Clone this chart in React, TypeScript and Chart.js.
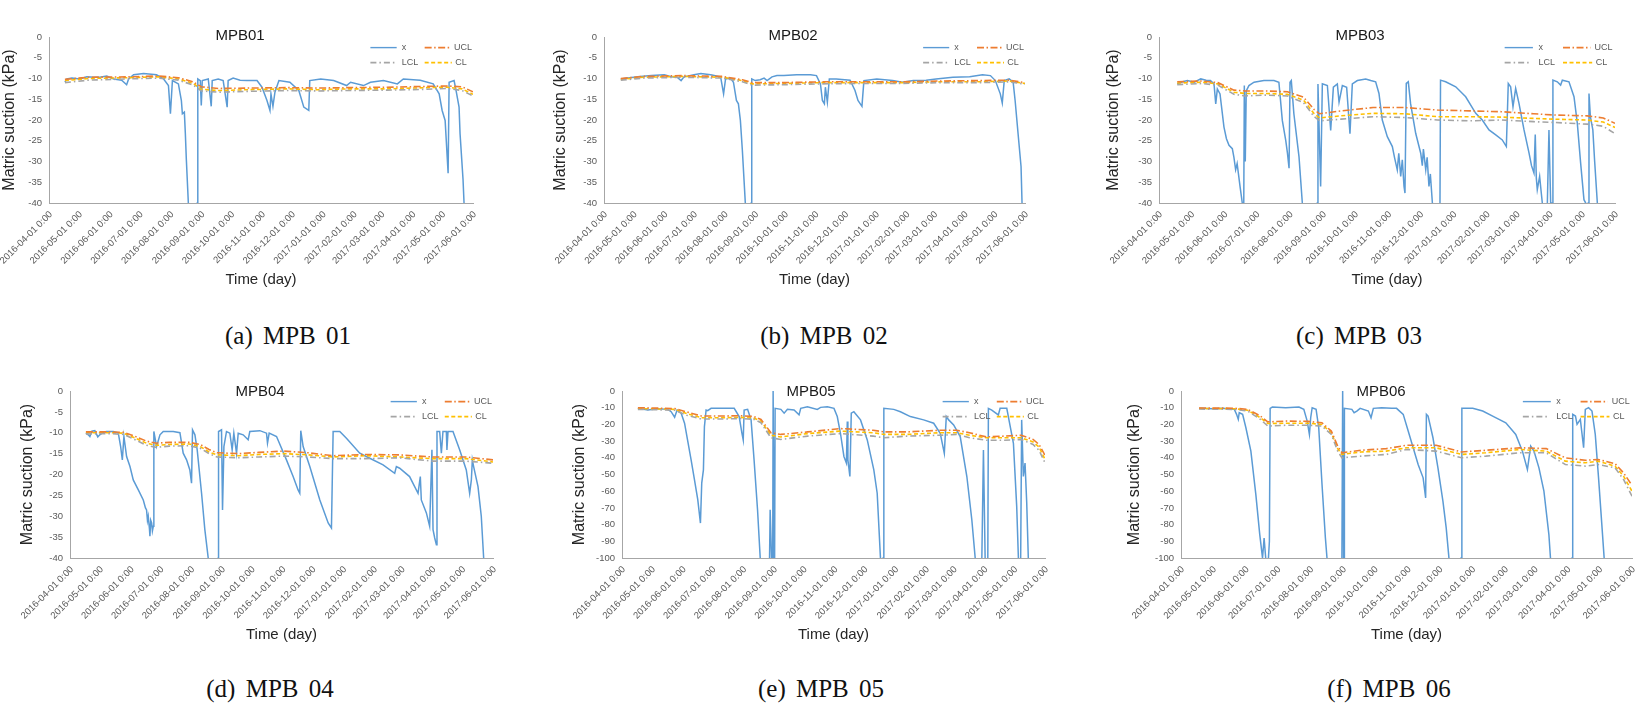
import React, { useEffect, useRef } from 'react';
import { Chart, registerables } from 'chart.js';

Chart.register(...registerables);

type Pt = [number, number];

// Day offsets from 2016-04-01 for monthly ticks, and their labels
const MONTH_DAYS = [0, 30, 61, 91, 122, 153, 183, 214, 244, 275, 306, 334, 365, 395, 426];
const MONTH_LABELS = [
  '2016-04-01 0:00', '2016-05-01 0:00', '2016-06-01 0:00', '2016-07-01 0:00', '2016-08-01 0:00',
  '2016-09-01 0:00', '2016-10-01 0:00', '2016-11-01 0:00', '2016-12-01 0:00', '2017-01-01 0:00',
  '2017-02-01 0:00', '2017-03-01 0:00', '2017-04-01 0:00', '2017-05-01 0:00', '2017-06-01 0:00',
];

// ---------- MPB01 ----------
const MPB01_X: Pt[] = [[16,-10.9],[18,-10.1],[23,-9.9],[31,-10.1],[38,-9.6],[45,-9.7],[51,-9.7],[58,-9.4],[65,-10.1],[73,-10.4],[78,-11.5],[80,-10.1],[85,-9.1],[95,-8.8],[108,-9.1],[115,-10.1],[120,-11.7],[122,-18.5],[124,-10.5],[130,-11.3],[133,-15.3],[134,-18.5],[136,-18.1],[137,-23.3],[138,-29.6],[140,-40],[141,-50],[148,-50],[149,-40],[149.5,-10.1],[152,-10.5],[153,-16.5],[154,-10.5],[160,-10.1],[163,-16.7],[164,-10.5],[170,-10.1],[175,-10.5],[179,-16.9],[180,-10.5],[185,-9.9],[192,-10.4],[199,-10.5],[209,-10.5],[214,-12.1],[219,-15.3],[222,-17.7],[223,-13.7],[225,-16.7],[227,-13.3],[231,-10.5],[242,-10.9],[251,-12.9],[256,-16.9],[261,-17.7],[262,-10.5],[273,-10.1],[286,-10.5],[299,-11.7],[303,-10.9],[316,-11.7],[323,-10.9],[336,-10.5],[350,-11.3],[356,-10.1],[373,-10.4],[386,-11.3],[392,-13.7],[395,-17.7],[398,-20.1],[401,-32.8],[402,-10.9],[407,-10.5],[409,-12.9],[412,-16.9],[413,-23.3],[416,-34.4],[417,-40],[418,-50]];
const MPB01_UCL: Pt[] = [[16,-10.2],[40,-9.7],[80,-9.6],[110,-9.4],[130,-9.8],[145,-10.8],[153,-12.0],[170,-12.4],[200,-12.3],[240,-12.2],[270,-12.3],[300,-12.2],[340,-12.1],[380,-11.9],[400,-11.8],[415,-12.0],[426,-13.2]];
const MPB01_CL: Pt[] = [[16,-10.5],[40,-10.0],[80,-9.8],[110,-9.6],[130,-10.1],[145,-11.2],[153,-12.6],[170,-12.9],[200,-12.7],[240,-12.5],[270,-12.7],[300,-12.5],[340,-12.5],[380,-12.2],[400,-12.1],[415,-12.5],[426,-13.8]];
const MPB01_LCL: Pt[] = [[16,-11.0],[40,-10.4],[80,-10.1],[110,-9.9],[130,-10.4],[145,-11.6],[153,-13.0],[170,-13.3],[200,-13.1],[240,-12.9],[270,-13.0],[300,-12.9],[340,-12.8],[380,-12.6],[400,-12.4],[415,-12.9],[426,-14.2]];

// ---------- MPB02 ----------
const MPB02_X: Pt[] = [[17,-10.1],[24,-9.9],[34,-9.6],[48,-9.3],[61,-9.1],[68,-9.6],[74,-9.7],[78,-10.5],[81,-9.6],[91,-9.1],[98,-8.8],[108,-9.1],[118,-9.6],[121,-13.7],[123,-10.1],[128,-9.9],[131,-10.9],[134,-15.3],[136,-16.1],[138,-20.1],[140,-27.3],[143,-40],[144,-50],[148,-50],[149,-40],[149.5,-10.1],[153,-10.5],[158,-10.3],[162,-9.9],[165,-10.5],[170,-9.6],[175,-9.3],[182,-9.3],[195,-9.1],[209,-9.1],[215,-9.3],[219,-11.3],[221,-15.3],[223,-16.1],[224,-12.1],[226,-15.7],[228,-10.1],[235,-10.1],[249,-10.4],[254,-12.9],[257,-15.3],[261,-16.7],[263,-10.5],[276,-10.1],[292,-10.5],[302,-10.9],[313,-10.5],[326,-10.4],[336,-10.1],[353,-9.7],[370,-9.6],[383,-9.1],[391,-9.3],[396,-10.5],[401,-13.7],[403,-15.9],[405,-10.5],[410,-10.1],[414,-10.9],[416,-15.3],[419,-23.3],[422,-31.2],[423,-40],[424,-50]];
const MPB02_UCL: Pt[] = [[17,-10.0],[40,-9.5],[80,-9.3],[120,-9.5],[140,-10.3],[150,-11.0],[180,-11.0],[220,-10.8],[260,-10.8],[300,-10.8],[340,-10.6],[380,-10.5],[410,-10.4],[426,-11.0]];
const MPB02_CL: Pt[] = [[17,-10.2],[40,-9.7],[80,-9.5],[120,-9.7],[140,-10.5],[150,-11.3],[180,-11.2],[220,-11.0],[260,-11.0],[300,-11.0],[340,-10.8],[380,-10.8],[410,-10.6],[426,-11.2]];
const MPB02_LCL: Pt[] = [[17,-10.4],[40,-9.9],[80,-9.7],[120,-9.9],[140,-10.8],[150,-11.6],[180,-11.5],[220,-11.3],[260,-11.2],[300,-11.2],[340,-11.0],[380,-11.0],[410,-10.8],[426,-11.4]];

// ---------- MPB03 ----------
const MPB03_X: Pt[] = [[17,-11.3],[22,-10.8],[26.5,-10.5],[33,-10.9],[39,-10.1],[44,-10.4],[48,-10.5],[51.4,-11.3],[53,-16.1],[54.5,-12.5],[57,-13.7],[60.7,-21.7],[63,-24.5],[65.4,-26.1],[68.5,-26.9],[70,-29],[71.6,-32],[73,-30.5],[75.7,-36],[77.8,-40],[78.5,-50],[79,-50],[79.4,-40],[79.7,-11.7],[80.6,-30],[81.5,-13],[84,-11.7],[88.8,-10.9],[98,-10.5],[107.4,-10.5],[112,-10.9],[115.2,-20.1],[118.4,-24.9],[120,-28],[121.5,-31.6],[122.4,-10.9],[123.6,-10.5],[126,-18.5],[130.8,-28.9],[133.9,-40],[135,-50],[147,-50],[147.9,-40],[148.5,-11.3],[151,-36],[152.6,-11.3],[157.3,-11.7],[160.4,-22.5],[162.9,-12.1],[166.6,-11.3],[168.2,-15.7],[171.3,-11.7],[175.3,-12.1],[178.4,-23.3],[180.6,-11.3],[185.3,-10.5],[193.1,-10.1],[197.8,-10.5],[202.4,-10.8],[205.5,-13.6],[208.6,-20],[213.3,-24],[218,-26.4],[220,-29],[222.6,-32],[224,-28],[225.8,-33.6],[227.3,-29.6],[228.9,-36],[229.8,-37.6],[231,-11.2],[232.9,-10.8],[235,-16],[239.8,-23.2],[244.5,-28],[246,-31],[247,-27],[249.2,-32],[250.5,-29],[252.2,-36],[253.5,-33],[255.4,-40],[256.5,-50],[261,-50],[262.5,-40],[263,-10.4],[267.8,-10.8],[277.2,-12],[286.5,-14.4],[295.9,-18.4],[302,-20],[308.3,-22.4],[314.6,-23.6],[320.7,-24.8],[324.5,-26.4],[326.3,-11.2],[328.5,-12],[330.7,-16.8],[333.2,-12.4],[336.3,-16],[341,-22.4],[345.7,-28],[348,-31],[350.3,-32.8],[351.5,-23.5],[352.5,-34],[353.4,-36.8],[355.6,-33.6],[357.3,-38],[358.1,-40],[359,-50],[362,-50],[362.8,-40],[364.3,-22.4],[365.9,-40],[366.5,-50],[367.2,-40],[368,-10.4],[372.1,-10.8],[375.2,-11.6],[376.8,-10.4],[383,-10.8],[387.7,-14.4],[390.8,-20.8],[393.9,-30.4],[397,-39.2],[398.6,-40],[399.5,-50],[400.5,-50],[401,-40],[401.7,-13.6],[403,-19.2],[405.3,-22.4],[407,-30],[409.5,-40],[410,-50]];
const MPB03_UCL: Pt[] = [[17,-10.8],[40,-10.6],[55,-11.0],[70,-12.8],[80,-13.0],[100,-13.0],[120,-13.2],[135,-14.5],[145,-17.5],[150,-18.5],[170,-17.8],[200,-17.0],[230,-17.0],[260,-17.6],[290,-17.8],[320,-18.0],[350,-18.5],[370,-18.8],[400,-19.0],[415,-19.5],[426,-20.8]];
const MPB03_CL: Pt[] = [[17,-11.1],[40,-10.9],[55,-11.3],[70,-13.3],[80,-13.6],[100,-13.6],[120,-13.8],[135,-15.2],[145,-18.5],[150,-19.5],[170,-19.0],[200,-18.4],[230,-18.5],[260,-19.2],[290,-19.2],[320,-19.3],[350,-19.6],[370,-19.8],[400,-20.0],[415,-20.5],[426,-21.8]];
const MPB03_LCL: Pt[] = [[17,-11.5],[40,-11.2],[55,-11.6],[70,-13.8],[80,-14.2],[100,-14.0],[120,-14.2],[135,-15.8],[145,-19.2],[150,-20.2],[170,-19.8],[200,-19.2],[230,-19.4],[260,-20.0],[290,-20.2],[320,-20.0],[350,-20.4],[370,-20.6],[400,-21.0],[415,-21.5],[426,-23.3]];

// ---------- MPB04 ----------
const MPB04_X: Pt[] = [[16,-10.1],[18.4,-10.5],[20,-10.9],[22,-9.6],[25,-9.5],[28,-11],[30,-10.5],[34,-9.8],[37,-9.7],[43.6,-9.7],[48.6,-10],[51,-13.3],[52.7,-16.5],[54.3,-10.9],[57,-15.7],[60.4,-18.1],[63.7,-21.3],[68.8,-23.7],[73.8,-26.1],[76,-28],[77.1,-28.5],[78,-31],[78.8,-30],[80,-33],[80.5,-34.8],[81.3,-31],[82.2,-31.6],[83,-33.5],[83.9,-32.4],[84.4,-28.5],[84.5,-9.7],[87.2,-13.3],[90.6,-10.5],[93.9,-9.7],[104,-9.7],[110.7,-10],[114,-14.9],[117.4,-16.5],[120.7,-18.9],[122.4,-22.1],[123.4,-9.3],[125.8,-10.5],[128.1,-14.1],[132.5,-24.5],[135.8,-33.2],[139.2,-40],[140,-50],[148.5,-50],[149.3,-40],[149.6,-9.7],[152.6,-9.3],[153.6,-28.5],[155,-13.3],[157.6,-9.7],[161,-10.1],[163.3,-14.1],[165,-10.1],[167.7,-14.9],[169.4,-10.1],[174.4,-10.5],[179.4,-11.7],[181.1,-9.7],[191.2,-9.5],[197.9,-10.1],[198.9,-12.5],[200.6,-10.1],[208,-10.9],[218,-16.5],[224.7,-20.5],[229.7,-23.7],[231.4,-24.5],[232.4,-9.5],[234.8,-13.3],[241.5,-18.1],[251.6,-26.1],[260,-31.6],[263.3,-32.8],[265,-9.7],[271.7,-9.7],[278.4,-11.3],[291.8,-14.9],[301.9,-16.1],[315.3,-17.7],[327,-19.7],[328.7,-18.1],[332,-18.5],[342,-20.5],[350.5,-24.5],[352.8,-20.5],[353.8,-26.1],[358.9,-29.2],[362.2,-32.4],[364.5,-14.1],[365.6,-33.2],[367.3,-35.2],[369,-36.8],[369.6,-9.7],[372.3,-9.7],[374,-14.9],[375.6,-9.7],[379,-9.7],[379.6,-14.1],[380.7,-9.7],[385.7,-9.7],[392.4,-14.1],[399.1,-18.9],[402.5,-24.5],[404.2,-21.3],[405.2,-16.5],[406.5,-18.1],[410.9,-22.9],[414.2,-30],[416.6,-40],[417,-50]];
const MPB04_UCL: Pt[] = [[16,-9.8],[40,-9.8],[54,-9.9],[65,-10.8],[77,-12.0],[87,-12.5],[100,-12.3],[120,-12.3],[131,-12.8],[140,-14.0],[148,-14.8],[170,-15.0],[190,-14.7],[215,-14.4],[240,-14.8],[265,-15.5],[298,-15.2],[332,-15.3],[365,-15.8],[399,-15.8],[426,-16.5]];
const MPB04_CL: Pt[] = [[16,-10.0],[40,-10.0],[54,-10.1],[65,-11.2],[77,-12.5],[87,-13.0],[100,-12.8],[120,-12.7],[131,-13.3],[140,-14.6],[148,-15.3],[170,-15.5],[190,-15.2],[215,-15.0],[240,-15.3],[265,-15.8],[298,-15.5],[332,-15.8],[365,-16.2],[399,-16.2],[426,-17.0]];
const MPB04_LCL: Pt[] = [[16,-10.3],[40,-10.2],[54,-10.4],[65,-11.6],[77,-13.0],[87,-13.5],[100,-13.2],[120,-13.1],[131,-13.7],[140,-15.0],[148,-15.8],[170,-16.0],[190,-15.8],[215,-15.6],[240,-15.8],[265,-16.2],[298,-16.2],[332,-16.0],[365,-16.8],[399,-16.8],[426,-17.3]];

// ---------- MPB05 ----------
const MPB05_X: Pt[] = [[16,-10.4],[26,-11.4],[36,-10.6],[46,-11],[49.5,-12.4],[53,-15.7],[55.5,-11.4],[59.6,-13.3],[63,-19.3],[66,-29.3],[69.6,-41.2],[73,-53.2],[76.3,-65.1],[79,-79.1],[80.3,-55.2],[82,-47.2],[83,-21.3],[84.7,-11.4],[86.3,-11.8],[89.7,-10.4],[99.7,-10.4],[113,-10.4],[118,-15.3],[120.8,-25.3],[122.1,-29.3],[123,-11.4],[126.5,-11],[130,-17.3],[133,-41.2],[136.5,-71.1],[139.2,-100],[140,-110],[148,-110],[148.6,-100],[149.2,-71.1],[150.6,-100],[151.5,-110],[151.8,-100],[152.2,0],[153.2,-100],[153.5,-110],[153.9,-100],[154.2,-10.4],[160,-11],[163.3,-13.3],[166.6,-11],[173.3,-11.4],[178.3,-14.3],[180,-10.4],[186.7,-9.4],[196.7,-11],[200,-9.8],[206.8,-9.4],[213.5,-10.4],[216.8,-15.3],[220,-25.3],[223.5,-39.2],[226,-43.2],[226.9,-18.3],[227.5,-41.2],[229.5,-51.2],[230.9,-13.3],[233.5,-12.4],[240.2,-17.3],[247,-29.3],[253.6,-47.2],[257,-61.2],[260.3,-100],[261,-110],[262.5,-110],[263,-100],[263.7,-10.4],[273.7,-11],[280.4,-12.4],[290.4,-15.3],[303.8,-17.3],[313.9,-19.3],[320.5,-25.3],[324.6,-37.3],[326.6,-15.3],[329,-17.3],[334,-20.3],[340.6,-27.3],[347.3,-51.2],[352.3,-77.1],[355.7,-100],[356.5,-110],[361.5,-110],[362.4,-100],[364,-35.3],[365.7,-100],[366.5,-110],[367.5,-110],[368.4,-100],[369,-10.4],[372.4,-11.4],[379,-14.3],[380.8,-10.4],[387.5,-10.4],[394.2,-31.3],[397.5,-69.1],[399.2,-100],[400,-110],[401,-110],[401.5,-100],[402.5,-17.3],[404.2,-51.2],[405.9,-43.2],[407.6,-67.1],[409.2,-100],[410,-110]];
const MPB05_UCL: Pt[] = [[16,-10.0],[53,-10.5],[65,-12.5],[80,-15.0],[100,-15.0],[120,-14.8],[133,-15.3],[140,-17],[150,-25.0],[160,-26.0],[187,-24.5],[220,-22.5],[253,-23.5],[264,-24.5],[287,-24.5],[320,-23.5],[337,-23.5],[350,-25],[367,-27.5],[385,-27],[402,-26.5],[414,-29],[420,-32],[426,-38.5]];
const MPB05_CL: Pt[] = [[16,-10.5],[53,-11.0],[65,-13.5],[80,-16.0],[100,-16.0],[120,-15.8],[133,-16.3],[140,-18],[150,-26.5],[160,-27.5],[187,-25.5],[220,-24.0],[253,-25.0],[264,-26.0],[287,-26.0],[320,-25.0],[337,-25.0],[350,-26.5],[367,-28.0],[385,-28.0],[402,-28.0],[414,-30.5],[420,-33.5],[426,-41.0]];
const MPB05_LCL: Pt[] = [[16,-11.0],[53,-11.5],[65,-14.5],[80,-16.8],[100,-16.8],[120,-16.5],[133,-17],[140,-19],[150,-28.0],[160,-29.0],[187,-27.0],[220,-25.5],[253,-27.0],[264,-28.0],[287,-27.0],[320,-26.5],[337,-26.0],[350,-28],[367,-29.5],[385,-29.5],[402,-29.0],[414,-32],[420,-35.5],[426,-43.0]];

// ---------- MPB06 ----------
const MPB06_X: Pt[] = [[17.5,-10.4],[30,-10.6],[39.4,-10.4],[50.4,-11],[52.5,-14],[54.1,-17],[55,-13],[58.2,-14],[61.3,-22],[66,-36],[70.7,-62],[74.4,-86],[77,-100],[78.5,-88],[80,-100],[80.5,-110],[82,-110],[82.6,-100],[83.5,-90],[84.2,-10.4],[86.3,-9.6],[98.8,-10],[111.4,-9.6],[116,-11],[119.2,-18],[121.3,-26],[122.5,-16],[123.9,-10],[127.6,-11],[130.1,-22],[133.2,-56],[136.4,-88],[137.9,-100],[138.5,-110],[151.5,-110],[152,-100],[152.7,0],[153.6,-100],[154,-110],[154.2,-100],[154.5,-10.4],[161.4,-11],[163.5,-13],[166.1,-12],[169.2,-10.4],[177,-12],[179.5,-16],[181.7,-10.4],[189.5,-10],[198.9,-10.4],[203.6,-10.4],[209.9,-14],[214.6,-24],[219.3,-34],[224,-44],[228.7,-52],[231.1,-64],[231.8,-14],[233.4,-15],[238,-28],[242.7,-46],[247.4,-66],[250.5,-82],[253.1,-100],[253.6,-110],[264,-110],[264.6,-100],[265.3,-10.4],[275.6,-10.4],[285,-12],[294.4,-15],[306.8,-19],[316.2,-26],[322.5,-36],[327.2,-47],[330.3,-33],[333.4,-36],[338.1,-46],[342.8,-60],[347.5,-86],[349,-100],[349.5,-110],[369,-110],[369.4,-100],[370,-14],[372.6,-15],[374.1,-20],[377.2,-17],[380.3,-34],[381.9,-11],[385,-10],[388.2,-12],[391.3,-26],[394.4,-52],[397.5,-80],[399.7,-100],[400.2,-110]];
const MPB06_UCL: Pt[] = [[17,-10.2],[50,-10.3],[63,-11.0],[75,-15],[82,-18.5],[100,-18.0],[120,-18.2],[133,-19.0],[142,-24],[148,-33],[152,-37],[170,-35.5],[194,-34.5],[213,-32.5],[241,-32.5],[265,-36.5],[288,-35.5],[320,-34.0],[345,-34.5],[363,-40.0],[382,-41.5],[394,-41.0],[410,-43.5],[418,-49],[426,-56.5]];
const MPB06_CL: Pt[] = [[17,-10.5],[50,-10.6],[63,-11.5],[75,-16],[82,-19.5],[100,-19.3],[120,-19.3],[133,-20.0],[142,-25],[148,-34.5],[152,-38.0],[170,-36.5],[194,-36.0],[213,-34.0],[241,-34.0],[265,-38.0],[288,-37.0],[320,-35.0],[345,-36.0],[363,-42.0],[382,-43.0],[394,-42.0],[410,-45.0],[418,-51],[426,-60.0]];
const MPB06_LCL: Pt[] = [[17,-10.8],[50,-11.0],[63,-12.0],[75,-17],[82,-21.0],[100,-20.5],[120,-20.5],[133,-21.0],[142,-26],[148,-36],[152,-40.0],[170,-39.0],[194,-38.0],[213,-35.0],[241,-36.0],[265,-40.0],[288,-39.0],[320,-37.0],[345,-37.0],[363,-44.0],[382,-45.0],[394,-44.0],[410,-46.0],[418,-53],[426,-63.0]];

const SANS = '"Liberation Sans", Arial, sans-serif';
const C_X = '#5B9BD5';
const C_UCL = '#ED7D31';
const C_LCL = '#A5A5A5';
const C_CL = '#FFC000';
const DASH_UCL = [7, 2.5, 1.5, 2.5];
const DASH_LCL = [6, 3, 1.5, 3];
const DASH_CL = [4, 2.5];
const Y_TITLE_SIZE = 16;
const X_TITLE_SIZE = 15;

interface PanelDef {
  title: string; caption: string;
  x: Pt[]; ucl: Pt[]; lcl: Pt[]; cl: Pt[];
  yMin: number; yStep: number;
  L: number; R: number; T: number; B: number;
  yTitleX: number; titleX: number; titleY: number; xTitleY: number;
  capX: number; capY: number;
}

const PANELS: PanelDef[] = [
  { title: 'MPB01', caption: '(a) MPB 01', x: MPB01_X, ucl: MPB01_UCL, lcl: MPB01_LCL, cl: MPB01_CL, yMin: -40, yStep: 5,
    L: 49, R: 473, T: 37, B: 203, yTitleX: 9, titleX: 240, titleY: 36, xTitleY: 280, capX: 288, capY: 336 },
  { title: 'MPB02', caption: '(b) MPB 02', x: MPB02_X, ucl: MPB02_UCL, lcl: MPB02_LCL, cl: MPB02_CL, yMin: -40, yStep: 5,
    L: 604, R: 1025, T: 37, B: 203, yTitleX: 561, titleX: 793, titleY: 36, xTitleY: 280, capX: 824, capY: 336 },
  { title: 'MPB03', caption: '(c) MPB 03', x: MPB03_X, ucl: MPB03_UCL, lcl: MPB03_LCL, cl: MPB03_CL, yMin: -40, yStep: 5,
    L: 1159, R: 1615, T: 37, B: 203, yTitleX: 1114, titleX: 1360, titleY: 36, xTitleY: 280, capX: 1359, capY: 336 },
  { title: 'MPB04', caption: '(d) MPB 04', x: MPB04_X, ucl: MPB04_UCL, lcl: MPB04_LCL, cl: MPB04_CL, yMin: -40, yStep: 5,
    L: 70, R: 493, T: 391, B: 558, yTitleX: 28, titleX: 260, titleY: 392, xTitleY: 635, capX: 270, capY: 689 },
  { title: 'MPB05', caption: '(e) MPB 05', x: MPB05_X, ucl: MPB05_UCL, lcl: MPB05_LCL, cl: MPB05_CL, yMin: -100, yStep: 10,
    L: 622, R: 1045, T: 391, B: 558, yTitleX: 580, titleX: 811, titleY: 392, xTitleY: 635, capX: 821, capY: 689 },
  { title: 'MPB06', caption: '(f) MPB 06', x: MPB06_X, ucl: MPB06_UCL, lcl: MPB06_LCL, cl: MPB06_CL, yMin: -100, yStep: 10,
    L: 1181, R: 1632, T: 391, B: 558, yTitleX: 1135, titleX: 1381, titleY: 392, xTitleY: 635, capX: 1389, capY: 689 },
];

function Panel({ p }: { p: PanelDef }) {
  const ref = useRef<HTMLCanvasElement>(null);
  const cLeft = Math.max(0, Math.round(p.yTitleX - Y_TITLE_SIZE * 0.6));
  const cTop = Math.round(p.titleY - 22);
  const cRight = Math.min(1639, p.R + 6);
  const cBottom = Math.round(p.xTitleY + X_TITLE_SIZE * 0.6);
  const w = cRight - cLeft;
  const h = cBottom - cTop;

  useEffect(() => {
    const toXY = (arr: Pt[]) => arr.map(([x, y]) => ({ x, y }));
    const decor = {
      id: 'decor',
      afterDraw(chart: any) {
        const ctx = chart.ctx as CanvasRenderingContext2D;
        const ca = chart.chartArea;
        ctx.save();
        ctx.font = `15px ${SANS}`;
        ctx.fillStyle = '#1a1a1a';
        ctx.textAlign = 'center';
        ctx.textBaseline = 'middle';
        ctx.fillText(p.title, p.titleX - cLeft, p.titleY - cTop);
        const pw = ca.right - ca.left;
        const fx = (f: number) => ca.left + f * pw;
        const r1 = ca.top + 10.6;
        const r2 = ca.top + 25.6;
        const item = (x0: number, x1: number, y: number, color: string, dash: number[], lw: number, text: string, tx: number) => {
          ctx.beginPath();
          ctx.setLineDash(dash);
          ctx.strokeStyle = color;
          ctx.lineWidth = lw;
          ctx.moveTo(x0, y);
          ctx.lineTo(x1, y);
          ctx.stroke();
          ctx.setLineDash([]);
          ctx.font = `9px ${SANS}`;
          ctx.fillStyle = '#595959';
          ctx.textAlign = 'left';
          ctx.textBaseline = 'middle';
          ctx.fillText(text, tx, y);
        };
        item(fx(0.758), fx(0.82), r1, C_X, [], 1.4, 'x', fx(0.832));
        item(fx(0.886), fx(0.946), r1, C_UCL, DASH_UCL, 1.6, 'UCL', fx(0.955));
        item(fx(0.758), fx(0.815), r2, C_LCL, DASH_LCL, 1.6, 'LCL', fx(0.832));
        item(fx(0.886), fx(0.95), r2, C_CL, DASH_CL, 1.6, 'CL', fx(0.958));
        ctx.restore();
      },
    };

    const tickFont = { family: SANS, size: 9.5 };
    const chart = new Chart(ref.current as HTMLCanvasElement, {
      type: 'line',
      data: {
        datasets: [
          { label: 'UCL', data: toXY(p.ucl), borderColor: C_UCL, borderWidth: 1.6, borderDash: DASH_UCL, pointRadius: 0, tension: 0, order: 1 },
          { label: 'LCL', data: toXY(p.lcl), borderColor: C_LCL, borderWidth: 1.6, borderDash: DASH_LCL, pointRadius: 0, tension: 0, order: 2 },
          { label: 'CL', data: toXY(p.cl), borderColor: C_CL, borderWidth: 1.6, borderDash: DASH_CL, pointRadius: 0, tension: 0, order: 3 },
          { label: 'x', data: toXY(p.x), borderColor: C_X, borderWidth: 1.5, pointRadius: 0, tension: 0, order: 4 },
        ],
      } as any,
      options: {
        responsive: false,
        animation: false,
        events: [],
        layout: { padding: { left: 0, top: p.T - cTop, right: cRight - p.R, bottom: 0 } },
        plugins: { legend: { display: false }, title: { display: false }, tooltip: { enabled: false } },
        scales: {
          x: {
            type: 'linear', min: 0, max: 426,
            grid: { display: false, drawTicks: false },
            border: { display: true, color: '#a6a6a6', width: 1 },
            afterBuildTicks: (s: any) => { s.ticks = MONTH_DAYS.map((v) => ({ value: v })); },
            afterFit: (s: any) => { s.height = cBottom - p.B; s.paddingLeft = 0; s.paddingRight = 0; },
            ticks: {
              autoSkip: false, maxRotation: 45, minRotation: 45, padding: 6, labelOffset: 2,
              font: tickFont, color: '#595959',
              callback: (_v: any, i: number) => MONTH_LABELS[i],
            },
            title: { display: true, text: 'Time (day)', font: { family: SANS, size: X_TITLE_SIZE }, color: '#262626', padding: 0 },
          },
          y: {
            min: p.yMin, max: 0,
            grid: { display: false, drawTicks: false },
            border: { display: true, color: '#a6a6a6', width: 1 },
            afterFit: (s: any) => { s.width = p.L - cLeft; },
            ticks: { stepSize: p.yStep, padding: 7, font: tickFont, color: '#595959' },
            title: { display: true, text: 'Matric suction (kPa)', font: { family: SANS, size: Y_TITLE_SIZE }, color: '#262626', padding: 0 },
          },
        },
      } as any,
      plugins: [decor],
    });
    return () => chart.destroy();
  }, []);

  return (
    <canvas
      ref={ref}
      width={w}
      height={h}
      style={{ position: 'absolute', left: cLeft, top: cTop, width: w, height: h }}
    />
  );
}

export default function App() {
  return (
    <div style={{ position: 'fixed', left: 0, top: 0, width: 1639, height: 712, background: '#ffffff', overflow: 'hidden' }}>
      {PANELS.map((p) => (
        <Panel key={p.title} p={p} />
      ))}
      {PANELS.map((p) => (
        <div
          key={p.caption}
          style={{
            position: 'absolute', left: p.capX - 150, top: p.capY - 16, width: 300, height: 32,
            lineHeight: '32px', textAlign: 'center', fontFamily: '"Liberation Serif", "Times New Roman", serif',
            fontSize: 25, wordSpacing: 4, color: '#111',
          }}
        >
          {p.caption}
        </div>
      ))}
    </div>
  );
}
